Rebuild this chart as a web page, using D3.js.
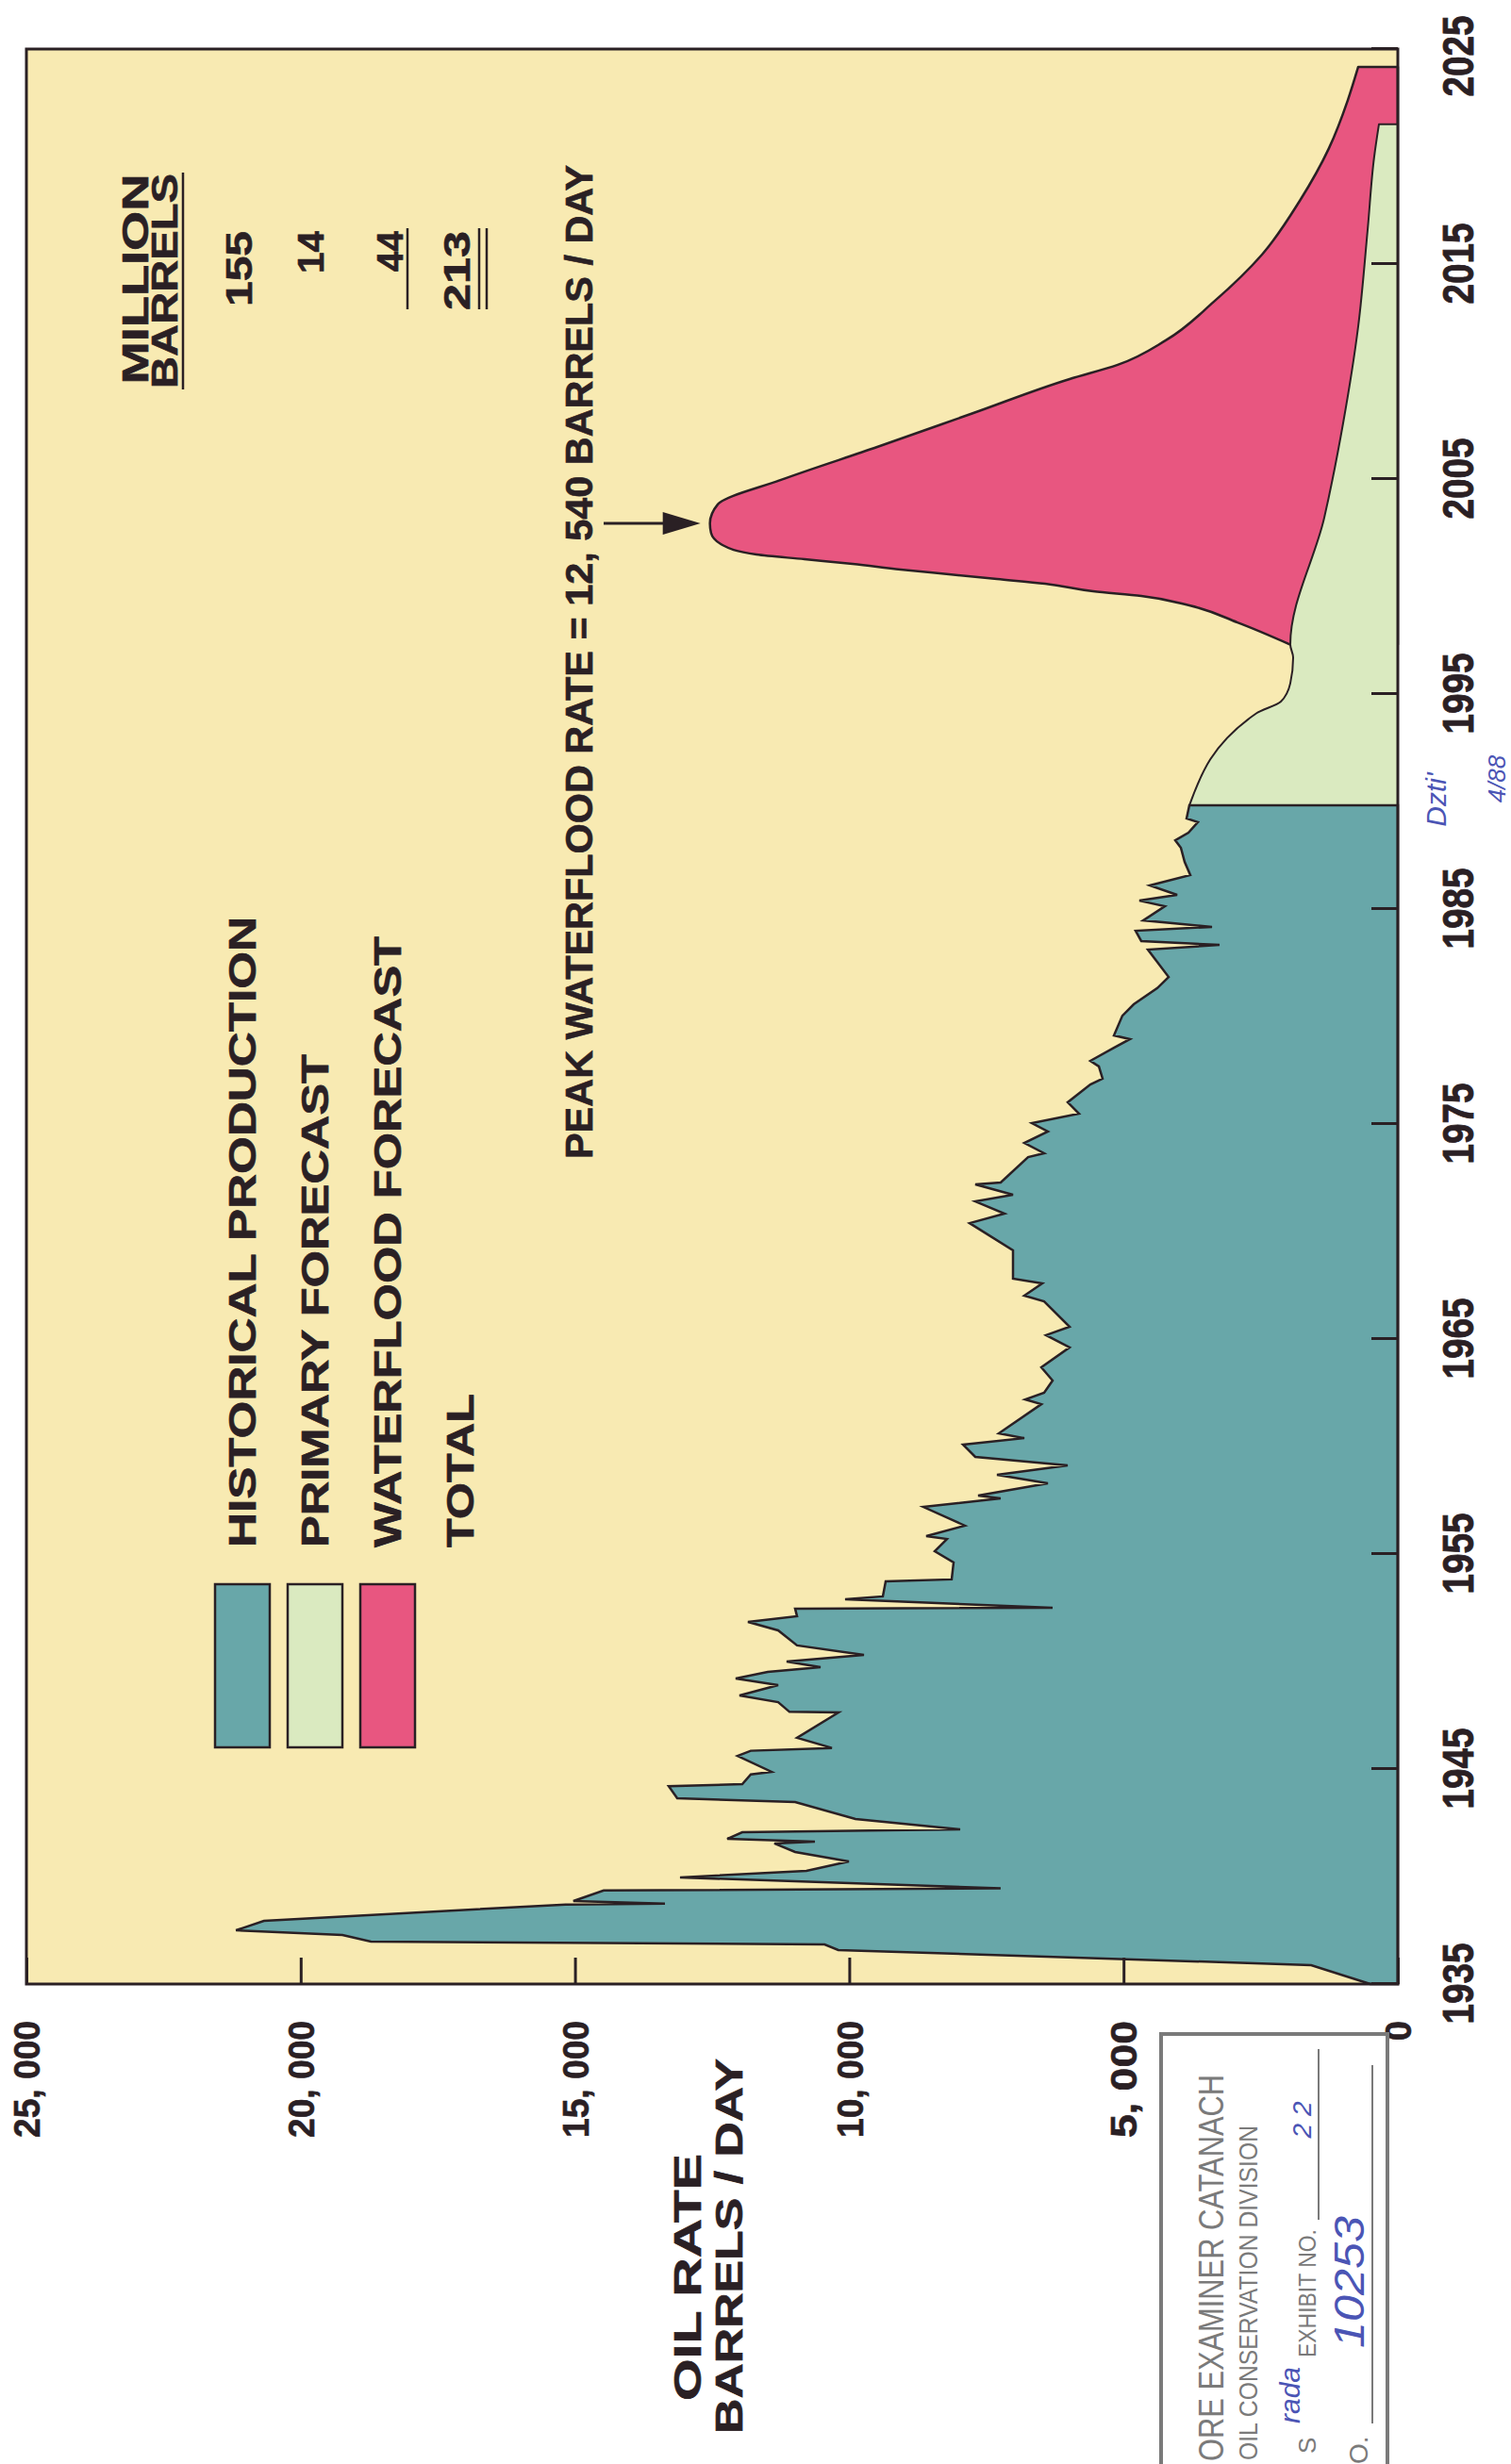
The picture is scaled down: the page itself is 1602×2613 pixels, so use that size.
<!DOCTYPE html>
<html>
<head>
<meta charset="utf-8">
<script src="https://cdn.jsdelivr.net/npm/d3@7"></script>
<style>
    body { margin: 0; background: #fff; }
    #chart { width: 1602px; height: 2613px; }
    text { font-family: "Liberation Sans", Arial, sans-serif; }
</style>
</head>
<body>
<div id="chart"></div>
<script>
//Datos (barriles / dia)
const histYear = [1935.00,1935.88,1936.58,1936.84,1936.97,1937.28,1937.50,1937.94,1938.70,1938.74,1938.86,1939.35,1939.45,1939.96,1940.26,1940.70,1941.14,1941.54,1941.62,1941.75,1942.06,1942.19,1942.68,1943.46,1943.64,1944.20,1944.30,1944.75,1944.87,1945.61,1945.85,1945.98,1946.45,1947.63,1947.66,1948.11,1948.42,1948.90,1949.21,1949.52,1949.74,1950.00,1950.31,1950.75,1951.45,1951.84,1952.11,1952.46,1952.50,1952.89,1953.03,1953.73,1953.82,1954.61,1955.13,1955.70,1955.83,1956.32,1957.19,1957.59,1957.72,1958.29,1958.68,1959.12,1959.52,1960.09,1960.39,1960.61,1961.97,1962.19,1962.50,1963.07,1963.68,1964.61,1965.18,1965.57,1966.75,1967.02,1967.59,1967.81,1969.12,1970.39,1970.83,1971.40,1971.71,1972.19,1972.28,1973.46,1973.64,1974.12,1974.65,1975.04,1975.48,1976.01,1976.84,1977.11,1977.68,1977.94,1978.55,1978.95,1979.12,1980.04,1980.57,1981.32,1981.84,1983.11,1983.33,1983.51,1983.99,1984.17,1984.47,1985.13,1985.39,1985.66,1986.10,1986.58,1987.19,1987.85,1988.20,1988.55,1989.04,1989.21,1989.82];
const histRate = [500,1580,10200,10450,18720,19240,21180,20670,15170,13360,15030,14477,7240,13085,10781,10007,10987,11365,10626,12225,11950,7978,9887,10987,13136,13291,11950,11795,11417,12036,11795,10316,10952,10196,11090,11296,12001,11296,12070,11486,10523,11142,9732,10952,11296,11847,10952,10987,6293,10076,9388,9336,8133,8098,8442,8219,8597,7892,8649,7240,7651,6379,7307,6018,7703,7926,6809,7273,6499,6792,6448,6293,6499,5983,6413,5983,6448,6809,6482,7015,7015,7806,7170,7703,7015,7703,7239,6740,6448,6809,6379,6671,5812,6018,5605,5382,5450,5605,5175,4883,5175,5021,4814,4384,4178,4556,3250,4677,4780,3387,4642,4247,4711,4023,4522,3783,3886,3955,4058,3817,3645,3851,3800];

const primYear = [1989.82,1994.10,1994.65,1995.50,1996.70,1997.30,2003.20,2007.60,2012.10,2016.60,2020.00,2021.50];
const primRate = [3800,2580,2132,1960,1908,1960,1341,997,722,550,430,344];

const totalYear = [1997.30,1998.33,1999.12,1999.56,1999.78,2000.13,2000.35,2000.57,2000.79,2001.05,2001.27,2001.49,2001.93,2002.50,2002.94,2003.82,2004.96,2006.49,2008.07,2009.65,2010.31,2011.45,2013.25,2015.44,2017.94,2020.39,2022.63,2024.17];
const totalRate = [1960,2923,3800,4677,5554,6430,7307,8184,9061,9938,10815,11692,12311,12520,12540,12397,11245,9491,7737,5983,5107,4230,3353,2476,1788,1255,911,722];

const yearTicks = [1935,1945,1955,1965,1975,1985,1995,2005,2015,2025];
const rateTicks = [0,5000,10000,15000,20000,25000];

const legendLabels = ['HISTORICAL  PRODUCTION','PRIMARY  FORECAST','WATERFLOOD  FORECAST','TOTAL'];
const barrelValues = ['155','14','44','213'];
const peakYear = 2002.94, peakRate = 12540;

//Colores fijos
const COLOR_BG = '#f8eab2',
COLOR_HIST = '#68a7a9',
COLOR_PRIM = '#daeac0',
COLOR_WATER = '#e85680',
COLOR_INK = '#2a2024',
COLOR_STAMP = '#7a7a7a',
COLOR_PEN = '#4b55b5';

//Area del grafico (sin rotar): el grafico original esta girado 90 grados
let W = 2052, H = 1454;

let svg = d3.select('#chart')
    .append('svg')
        .attr('width', 1602)
        .attr('height', 2613);

let g = svg.append('g')
    .attr('transform', 'translate(28,2104) rotate(-90)');

let x = d3.scaleLinear().domain([1935, 2025]).range([0, W]);
let y = d3.scaleLinear().domain([0, 25000]).range([H, 0]);

g.append('rect')
    .attr('width', W)
    .attr('height', H)
    .attr('fill', COLOR_BG);

function areaGen(curve) {
    return d3.area()
        .x(function(d) { return x(d[0]); })
        .y0(H)
        .y1(function(d) { return y(d[1]); })
        .curve(curve);
}

let total = d3.zip(totalYear, totalRate);
let prim = d3.zip(primYear, primRate);
let hist = d3.zip(histYear, histRate);

//Waterflood (total) > primario > historico
g.append('path').datum(total)
    .attr('d', areaGen(d3.curveMonotoneX))
    .attr('fill', COLOR_WATER)
    .attr('stroke', COLOR_INK).attr('stroke-width', 2.5).attr('stroke-linejoin', 'round');

g.append('path').datum(prim)
    .attr('d', areaGen(d3.curveMonotoneX))
    .attr('fill', COLOR_PRIM)
    .attr('stroke', COLOR_INK).attr('stroke-width', 2).attr('stroke-linejoin', 'round');

g.append('path').datum(hist)
    .attr('d', areaGen(d3.curveLinear))
    .attr('fill', COLOR_HIST)
    .attr('stroke', COLOR_INK).attr('stroke-width', 2.5).attr('stroke-linejoin', 'miter');

//Marco
g.append('rect')
    .attr('width', W)
    .attr('height', H)
    .attr('fill', 'none')
    .attr('stroke', COLOR_INK)
    .attr('stroke-width', 3);

//Ejes
let xAxis = d3.axisBottom(x)
    .tickValues(yearTicks)
    .tickSize(-28)
    .tickPadding(47)
    .tickFormat(d3.format('d'));

let gx = g.append('g')
    .attr('transform', 'translate(0,' + H + ')')
    .call(xAxis);
gx.select('.domain').remove();
gx.selectAll('.tick line').attr('stroke', COLOR_INK).attr('stroke-width', 3);
gx.selectAll('.tick text')
    .attr('font-size', 46).attr('font-weight', 'bold').attr('fill', COLOR_INK)
    .attr('stroke', COLOR_INK).attr('stroke-width', 0.8)
    .attr('dx', function(d) { return d == 2025 ? -8 : 0; })
    .attr('textLength', 86).attr('lengthAdjust', 'spacingAndGlyphs');

let yAxis = d3.axisLeft(y)
    .tickValues(rateTicks)
    .tickSize(-28)
    .tickPadding(39)
    .tickFormat(function(d) { return d == 0 ? '0' : d3.format(',')(d).replace(',', ', '); });

let gy = g.append('g').call(yAxis);
gy.select('.domain').remove();
gy.selectAll('.tick line').attr('stroke', COLOR_INK).attr('stroke-width', 3);
gy.selectAll('.tick text')
    .attr('font-size', 38).attr('font-weight', 'bold').attr('fill', COLOR_INK)
    .attr('stroke', COLOR_INK).attr('stroke-width', 0.6)
    .attr('dy', '0.36em')
    .each(function(d) {
        if (d != 0) { d3.select(this).attr('textLength', 124).attr('lengthAdjust', 'spacingAndGlyphs'); }
    });

//Titulo eje
function boldText(sel) {
    return sel.attr('font-weight', 'bold').attr('fill', COLOR_INK)
        .attr('stroke', COLOR_INK).attr('stroke-width', 0.6)
        .attr('lengthAdjust', 'spacingAndGlyphs');
}

g.append('text')
    .attr('x', -311).attr('y', 715)
    .attr('text-anchor', 'middle')
    .attr('font-size', 40)
    .attr('textLength', 262)
    .call(boldText)
    .text('OIL RATE');
g.append('text')
    .attr('x', -278).attr('y', 759)
    .attr('text-anchor', 'middle')
    .attr('font-size', 40)
    .attr('textLength', 398)
    .call(boldText)
    .text('BARRELS  /  DAY');

//Leyenda
let legendLengths = [669, 523, 648, 163];
let legendColors = [COLOR_HIST, COLOR_PRIM, COLOR_WATER, null];
let legend = g.append('g').attr('class', 'legend');
legendLabels.forEach(function(lab, i) {
    let cy = 229 + i * 77;
    if (legendColors[i]) {
        legend.append('rect')
            .attr('x', 251).attr('y', cy - 29)
            .attr('width', 173).attr('height', 58)
            .attr('fill', legendColors[i])
            .attr('stroke', COLOR_INK).attr('stroke-width', 2.5);
    }
    legend.append('text')
        .attr('x', 463).attr('y', cy + 14)
        .attr('font-size', 40)
        .attr('textLength', legendLengths[i])
        .call(boldText)
        .text(lab);
});

//Tabla millones de barriles
let table = g.append('g').attr('class', 'table');
table.append('text')
    .attr('x', 1808).attr('y', 129).attr('text-anchor', 'middle')
    .attr('font-size', 38)
    .attr('textLength', 223)
    .call(boldText)
    .text('MILLION');
table.append('text')
    .attr('x', 1806).attr('y', 160).attr('text-anchor', 'middle')
    .attr('font-size', 38)
    .attr('textLength', 228)
    .call(boldText)
    .text('BARRELS');
table.append('line')
    .attr('x1', 1691).attr('x2', 1921).attr('y1', 166).attr('y2', 166)
    .attr('stroke', COLOR_INK).attr('stroke-width', 2.5);

let numBase = [239, 315, 399, 470];
let numLen = [80, 45, 43, 84];
barrelValues.forEach(function(v, i) {
    table.append('text')
        .attr('x', 1859).attr('y', numBase[i]).attr('text-anchor', 'end')
        .attr('font-size', 38)
        .attr('textLength', numLen[i])
        .call(boldText)
        .text(v);
});
[404, 480, 488].forEach(function(ly) {
    table.append('line')
        .attr('x1', 1776).attr('x2', 1862).attr('y1', ly).attr('y2', ly)
        .attr('stroke', COLOR_INK).attr('stroke-width', 2.5);
});

//Anotacion del pico
g.append('text')
    .attr('x', 875).attr('y', 600)
    .attr('font-size', 40)
    .attr('textLength', 1054)
    .call(boldText)
    .text('PEAK  WATERFLOOD  RATE  =  12, 540  BARRELS  /  DAY');

let px = x(peakYear), tipY = y(peakRate) - 10;
g.append('line')
    .attr('x1', px).attr('x2', px).attr('y1', 612).attr('y2', tipY - 30)
    .attr('stroke', COLOR_INK).attr('stroke-width', 3);
g.append('path')
    .attr('d', 'M' + (px - 12) + ',' + (tipY - 40) + 'L' + (px + 12) + ',' + (tipY - 40) + 'L' + px + ',' + tipY + 'Z')
    .attr('fill', COLOR_INK);

//Nota manuscrita junto al eje
g.append('text')
    .attr('x', 1256).attr('y', 1505).attr('text-anchor', 'middle')
    .attr('font-family', 'DejaVu Serif').attr('font-style', 'italic')
    .attr('font-size', 30).attr('fill', COLOR_PEN)
    .text("Dzti'");
g.append('text')
    .attr('x', 1278).attr('y', 1568).attr('text-anchor', 'middle')
    .attr('font-family', 'DejaVu Serif').attr('font-style', 'italic')
    .attr('font-size', 26).attr('fill', COLOR_PEN)
    .text('4/88');

//Sello del expediente
let stamp = g.append('g').attr('class', 'stamp');
stamp.append('rect')
    .attr('x', -530).attr('y', 1203).attr('width', 477).attr('height', 240)
    .attr('fill', '#fff').attr('stroke', COLOR_STAMP).attr('stroke-width', 4);
stamp.append('text')
    .attr('x', -96).attr('y', 1269).attr('text-anchor', 'end')
    .attr('font-size', 36).attr('fill', COLOR_STAMP)
    .attr('textLength', 410).attr('lengthAdjust', 'spacingAndGlyphs')
    .text('ORE EXAMINER CATANACH');
stamp.append('text')
    .attr('x', -150).attr('y', 1305).attr('text-anchor', 'end')
    .attr('font-size', 28).attr('fill', COLOR_STAMP)
    .attr('textLength', 355).attr('lengthAdjust', 'spacingAndGlyphs')
    .text('OIL CONSERVATION DIVISION');
stamp.append('text')
    .attr('x', -498).attr('y', 1367)
    .attr('font-size', 26).attr('fill', COLOR_STAMP)
    .text('S');
stamp.append('text')
    .attr('x', -466).attr('y', 1350)
    .attr('font-family', 'DejaVu Serif').attr('font-style', 'italic')
    .attr('font-size', 30).attr('fill', COLOR_PEN)
    .text('rada');
stamp.append('text')
    .attr('x', -260).attr('y', 1367).attr('text-anchor', 'end')
    .attr('font-size', 26).attr('fill', COLOR_STAMP)
    .attr('textLength', 136).attr('lengthAdjust', 'spacingAndGlyphs')
    .text('EXHIBIT NO.');
stamp.append('line')
    .attr('x1', -250).attr('x2', -69).attr('y1', 1370).attr('y2', 1370)
    .attr('stroke', COLOR_STAMP).attr('stroke-width', 2);
stamp.append('text')
    .attr('x', -144).attr('y', 1362).attr('text-anchor', 'middle')
    .attr('font-family', 'DejaVu Serif').attr('font-style', 'italic')
    .attr('font-size', 28).attr('fill', COLOR_PEN)
    .text('2 2');
stamp.append('text')
    .attr('x', -509).attr('y', 1422)
    .attr('font-size', 28).attr('fill', COLOR_STAMP)
    .text('O.');
stamp.append('line')
    .attr('x1', -466).attr('x2', -86).attr('y1', 1427).attr('y2', 1427)
    .attr('stroke', COLOR_STAMP).attr('stroke-width', 2);
stamp.append('text')
    .attr('x', -316).attr('y', 1418).attr('text-anchor', 'middle')
    .attr('font-family', 'DejaVu Serif').attr('font-style', 'italic')
    .attr('font-size', 44).attr('fill', COLOR_PEN)
    .attr('textLength', 140).attr('lengthAdjust', 'spacingAndGlyphs')
    .text('10253');
</script>
</body>
</html>
